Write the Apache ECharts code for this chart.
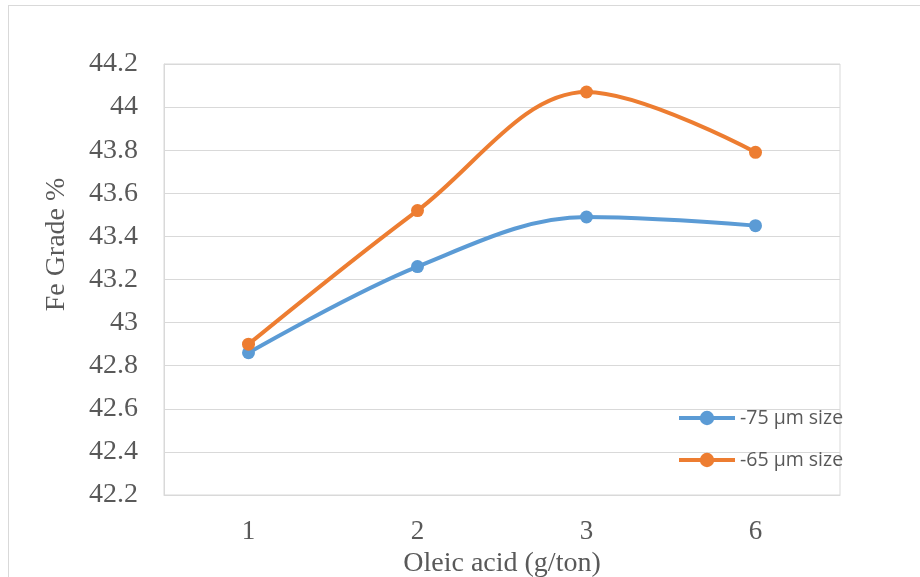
<!DOCTYPE html>
<html>
<head>
<meta charset="utf-8">
<script src="https://cdn.jsdelivr.net/npm/echarts@6/dist/echarts.min.js"></script>
<style>
  html, body { margin: 0; padding: 0; background: #fff; }
  #chart { width: 920px; height: 577px; }
  #frame { position: absolute; left: 8px; top: 5px; width: 960px; height: 640px;
           border: 1px solid #d9d9d9; pointer-events: none; }
</style>
</head>
<body>
<div id="chart"></div>
<div id="frame"></div>
<script>
// Fe grade vs oleic acid dosage
const doses = ['1', '2', '3', '6'];
const size75 = [42.86, 43.26, 43.49, 43.45];
const size65 = [42.90, 43.52, 44.07, 43.79];

const GRAY = '#595959';
const SERIF = '"Liberation Serif", "Times New Roman", serif';

const chart = echarts.init(document.getElementById('chart'));
chart.setOption({
  animation: false,
  backgroundColor: '#fff',
  grid: {
    left: 164, right: 80, top: 64, bottom: 82,
    outerBoundsMode: 'none', containLabel: false,
    show: true, borderColor: '#d9d9d9', borderWidth: 1
  },
  legend: {
    orient: 'vertical',
    left: 672, top: 403,
    itemWidth: 56, itemHeight: 18, itemGap: 22,
    lineStyle: { width: 4 },
    textStyle: { fontFamily: '"Open Sans", sans-serif', fontSize: 19.5, color: GRAY },
    data: ['-75 µm size', '-65 µm size']
  },
  xAxis: {
    type: 'category',
    data: doses,
    boundaryGap: true,
    name: 'Oleic acid (g/ton)',
    nameLocation: 'middle',
    nameGap: 50,
    nameTextStyle: { fontFamily: SERIF, fontSize: 28, color: GRAY },
    axisLine: { show: true, lineStyle: { color: '#d9d9d9' } },
    axisTick: { show: false },
    axisLabel: { fontFamily: SERIF, fontSize: 27, color: GRAY, margin: 23 },
    splitLine: { show: false }
  },
  yAxis: {
    type: 'value',
    min: 42.2, max: 44.2, interval: 0.2,
    name: 'Fe Grade %',
    nameLocation: 'middle',
    nameGap: 93,
    nameTextStyle: { fontFamily: SERIF, fontSize: 28, color: GRAY, padding: [0, 0, 0, 70] },
    axisLine: { show: true, lineStyle: { color: '#d9d9d9' } },
    axisTick: { show: false },
    axisLabel: { fontFamily: SERIF, fontSize: 28, color: GRAY, margin: 26,
                 formatter: v => String(+v.toFixed(1)) },
    splitLine: { lineStyle: { color: '#d9d9d9', width: 1 } }
  },
  series: [
    {
      name: '-75 µm size', type: 'line', data: size75, smooth: 0.35,
      symbol: 'circle', symbolSize: 13,
      lineStyle: { color: '#5B9BD5', width: 4 },
      itemStyle: { color: '#5B9BD5' }
    },
    {
      name: '-65 µm size', type: 'line', data: size65, smooth: 0.35,
      symbol: 'circle', symbolSize: 13,
      lineStyle: { color: '#ED7D31', width: 4 },
      itemStyle: { color: '#ED7D31' }
    }
  ]
});
</script>
</body>
</html>
